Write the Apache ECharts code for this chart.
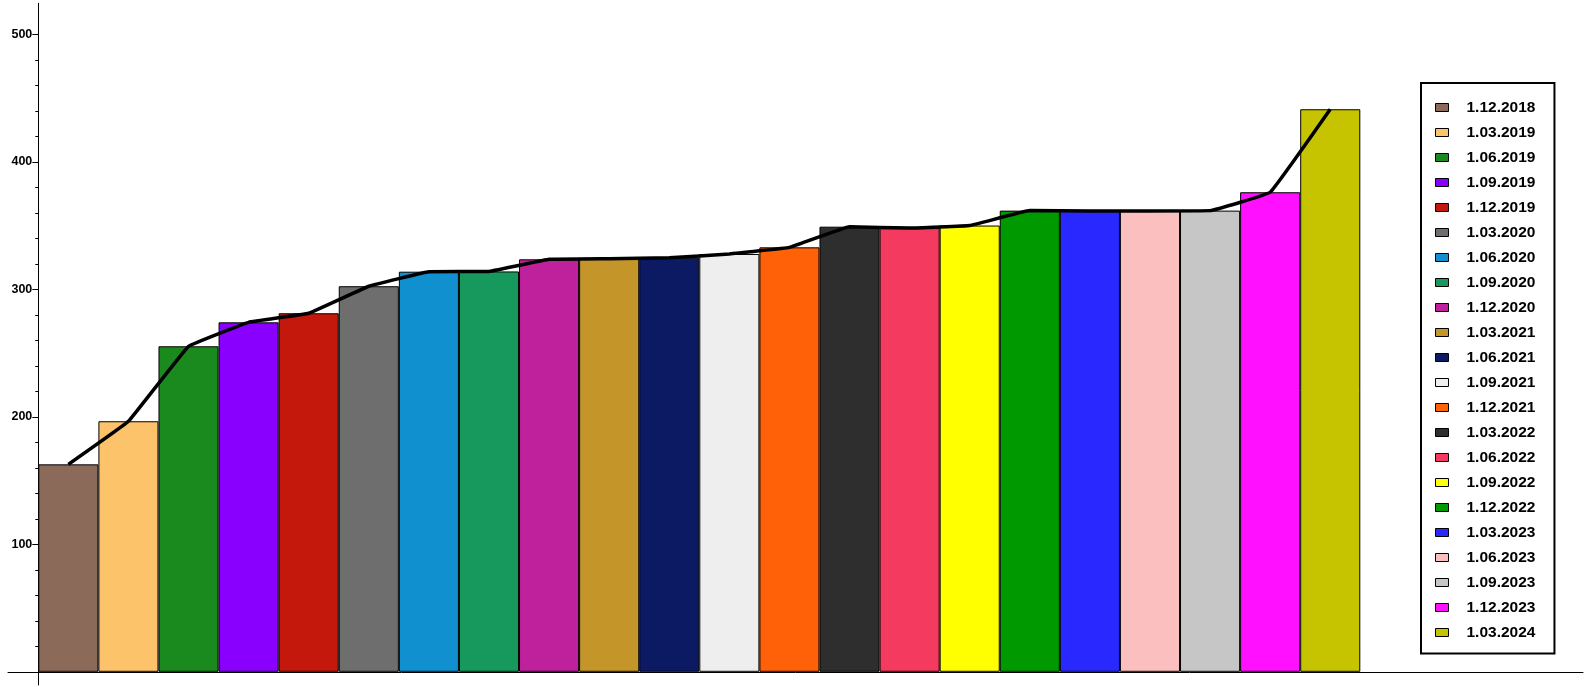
<!DOCTYPE html>
<html>
<head>
<meta charset="utf-8">
<script src="https://cdn.jsdelivr.net/npm/echarts@6/dist/echarts.min.js"></script>
<style>
html,body{margin:0;padding:0;background:#fff;}
#chart{width:1590px;height:688px;}
</style>
</head>
<body>
<div id="chart"></div>
<script>
const categories = ['1.12.2018','1.03.2019','1.06.2019','1.09.2019','1.12.2019','1.03.2020','1.06.2020','1.09.2020','1.12.2020','1.03.2021','1.06.2021','1.09.2021','1.12.2021','1.03.2022','1.06.2022','1.09.2022','1.12.2022','1.03.2023','1.06.2023','1.09.2023','1.12.2023','1.03.2024'];
const values = [162.7, 196.5, 255.3, 274.1, 281.2, 302.4, 313.8, 314, 323.5, 324, 324.8, 327.7, 332.9, 349.1, 348, 350, 361.7, 361.5, 361.5, 361.7, 376.1, 441.2];
const colors = ['#8c6a5a','#fdc36b','#1a8a1e','#8a00ff','#c4180c','#6e6e6e','#1090cf','#17995e','#bf219c','#c4962a','#0c1a63','#eeeeee','#ff6108','#2e2e2e','#f43a5e','#ffff00','#009900','#2929ff','#fbbfbf','#c6c6c6','#ff10ff','#c6c300'];
const yLabelValues = [100, 200, 300, 400, 500];
const yMinorValues = [20,40,60,80,120,140,160,180,220,240,260,280,320,340,360,380,420,440,460,480];

const Y_MIN = -10.35, Y_MAX = 524.3;

const barSeries = categories.map((name, i) => ({
  name: name,
  type: 'bar',
  xAxisIndex: 0,
  yAxisIndex: 0,
  barWidth: '100%',
  barGap: '-100%',
  itemStyle: { color: colors[i], borderColor: '#000', borderWidth: 1 },
  data: values.map((v, j) => (j === i ? v : null))
}));

const option = {
  animation: false,
  backgroundColor: '#fff',
  grid: [
    { left: 38.3, right: 229.7, top: 3.3, bottom: 3 },
    { left: 8, right: 7, top: 3.3, bottom: 3 }
  ],
  xAxis: [
    { type: 'category', gridIndex: 0, data: categories, boundaryGap: true,
      axisLine: { show: false }, axisTick: { show: false }, axisLabel: { show: false }, splitLine: { show: false } },
    { type: 'value', gridIndex: 1, min: 0, max: 1,
      axisLine: { show: true, onZero: true, lineStyle: { color: '#000', width: 1 } },
      axisTick: { show: false }, axisLabel: { show: false }, splitLine: { show: false } }
  ],
  yAxis: [
    { type: 'value', gridIndex: 0, position: 'left', min: Y_MIN, max: Y_MAX,
      axisLine: { show: true, onZero: false, lineStyle: { color: '#000', width: 1 } },
      axisTick: { show: true, length: 6, customValues: yLabelValues, lineStyle: { color: '#000' } },
      axisLabel: { show: true, customValues: yLabelValues, margin: 6, color: '#000',
        fontFamily: 'Liberation Sans', fontWeight: 'bold', fontSize: 12.5 },
      splitLine: { show: false } },
    { type: 'value', gridIndex: 0, position: 'left', offset: 0, min: Y_MIN, max: Y_MAX,
      axisLine: { show: false },
      axisTick: { show: true, length: 3, customValues: yMinorValues, lineStyle: { color: '#000' } },
      axisLabel: { show: false }, splitLine: { show: false } },
    { type: 'value', gridIndex: 1, min: Y_MIN, max: Y_MAX, show: false }
  ],
  legend: {
    data: categories,
    orient: 'vertical',
    left: 1421, top: 83,
    padding: [16.5, 19, 13, 14],
    borderColor: '#000', borderWidth: 2,
    icon: 'rect', itemWidth: 13, itemHeight: 8, itemGap: 9,
    itemStyle: { borderColor: '#000', borderWidth: 1 },
    textStyle: { fontFamily: 'Liberation Sans', fontWeight: 'bold', fontSize: 15.5, color: '#000', lineHeight: 16, padding: [0,0,0,13] }
  },
  series: barSeries.concat([{
    name: 'trend',
    type: 'line',
    xAxisIndex: 0, yAxisIndex: 0,
    data: values,
    symbol: 'none',
    smooth: 0.06,
    z: 10,
    lineStyle: { color: '#000', width: 3.5 },
    itemStyle: { color: '#000' }
  }])
};

const chart = echarts.init(document.getElementById('chart'), null, { renderer: 'canvas' });
chart.setOption(option);
</script>
</body>
</html>
